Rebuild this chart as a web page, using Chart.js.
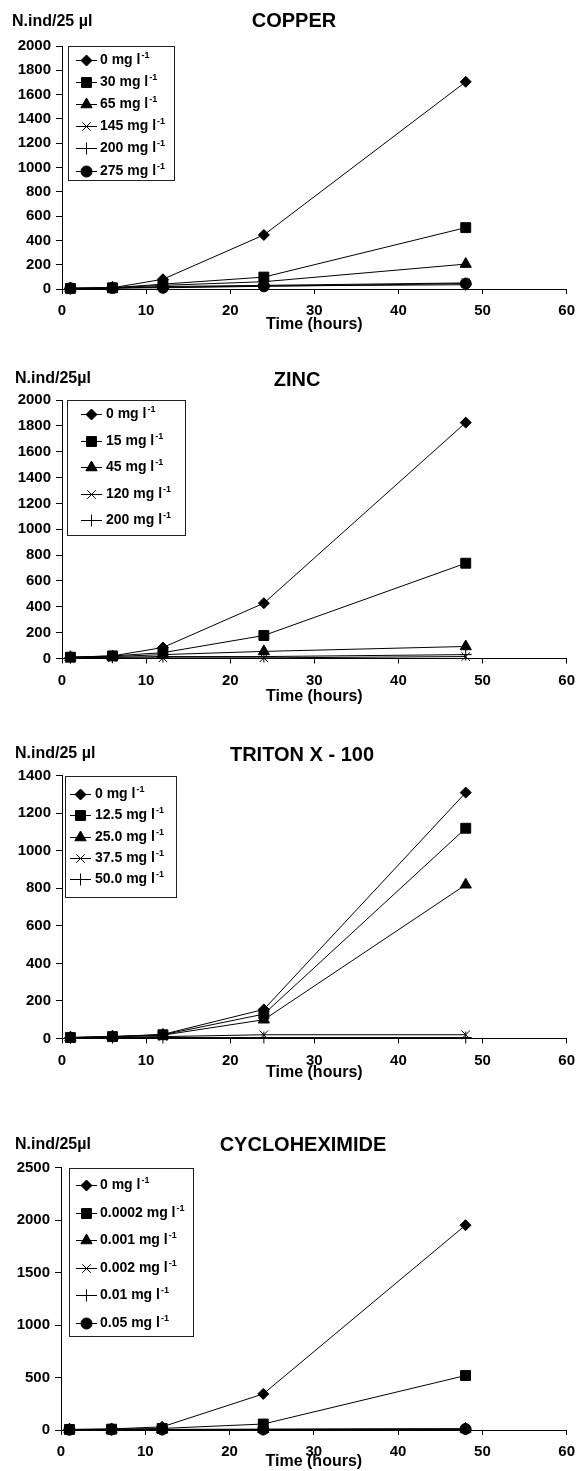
<!DOCTYPE html>
<html>
<head>
<meta charset="utf-8">
<title>Growth curves</title>
<script src="https://cdn.jsdelivr.net/npm/chart.js@4.4.1/dist/chart.umd.min.js"></script>
<style>
  body { margin: 0; background: #fff; }
  #wrap { position: relative; width: 583px; height: 1471px; }
  canvas { position: absolute; left: 0; }
</style>
</head>
<body>
<div id="wrap">
  <canvas id="copperChart"></canvas>
  <canvas id="zincChart"></canvas>
  <canvas id="tritonChart"></canvas>
  <canvas id="cycloChart"></canvas>
</div>
<script>
// sampling times (hours), shared by every panel
const hours = [1, 6, 12, 24, 48];

// ---- COPPER ----
const copperConc = ["0", "30", "65", "145", "200", "275"];
const copper0 = [5, 10, 80, 445, 1705];
const copper30 = [5, 10, 40, 98, 505];
const copper65 = [5, 10, 30, 60, 205];
const copper145 = [5, 8, 20, 30, 50];
const copper200 = [5, 8, 15, 25, 35];
const copper275 = [5, 8, 10, 22, 45];
const copperTicks = { max: 2000, step: 200 };

// ---- ZINC ----
const zincConc = ["0", "15", "45", "120", "200"];
const zinc0 = [10, 20, 85, 428, 1825];
const zinc15 = [10, 20, 45, 178, 737];
const zinc45 = [10, 15, 30, 55, 93];
const zinc120 = [5, 5, 5, 5, 15];
const zinc200 = [5, 10, 15, 15, 30];
const zincTicks = { max: 2000, step: 200 };

// ---- TRITON X - 100 ----
const tritonConc = ["0", "12.5", "25.0", "37.5", "50.0"];
const triton0 = [5, 10, 22, 155, 1310];
const triton12 = [5, 10, 20, 130, 1120];
const triton25 = [5, 10, 18, 100, 819];
const triton37 = [5, 8, 10, 20, 20];
const triton50 = [3, 5, 5, 5, 5];
const tritonTicks = { max: 1400, step: 200 };

// ---- CYCLOHEXIMIDE ----
const cycloConc = ["0", "0.0002", "0.001", "0.002", "0.01", "0.05"];
const cyclo0 = [5, 10, 30, 344, 1952];
const cyclo00002 = [5, 8, 15, 57, 519];
const cyclo0001 = [3, 5, 5, 8, 10];
const cyclo0002 = [3, 5, 5, 5, 8];
const cyclo001 = [3, 5, 5, 5, 8];
const cyclo005 = [3, 5, 5, 5, 10];
const cycloTicks = { max: 2500, step: 500 };

/* ===============================
   STYLE
=============================== */
const FONT = "'Liberation Sans', Arial, Helvetica, sans-serif";
const markers = [
  { style: "rectRot", radius: 5.5 },
  { style: "rect", radius: 7 },
  { style: "triangle", radius: 6.5 },
  { style: "crossRot", radius: 6 },
  { style: "cross", radius: 6 },
  { style: "circle", radius: 5.5 }
];

// page layout of each panel (pixels on the page)
const panels = [
  {
    id: "copperChart", title: "COPPER", yLabel: "N.ind/25 \u00b5l",
    conc: copperConc, series: [copper0, copper30, copper65, copper145, copper200, copper275], ticks: copperTicks,
    top: 0, height: 345, plotTop: 46, plotBottom: 289, plotLeft: 62, plotRight: 570,
    titleX: 294, titleY: 21, yLabelX: 12, yLabelY: 22, xTitleY: 325,
    legend: { left: 68, top: 46, right: 174, bottom: 180, firstY: 59.5, spacing: 22.2, lineX1: 76, lineX2: 97, textX: 100 }
  },
  {
    id: "zincChart", title: "ZINC", yLabel: "N.ind/25\u00b5l",
    conc: zincConc, series: [zinc0, zinc15, zinc45, zinc120, zinc200], ticks: zincTicks,
    top: 360, height: 360, plotTop: 400, plotBottom: 658.5, plotLeft: 62, plotRight: 571.5,
    titleX: 297, titleY: 380, yLabelX: 15, yLabelY: 379, xTitleY: 697,
    legend: { left: 67, top: 399.5, right: 185, bottom: 534, firstY: 414.3, spacing: 26.4, lineX1: 81, lineX2: 102, textX: 106 }
  },
  {
    id: "tritonChart", title: "TRITON X - 100", yLabel: "N.ind/25 \u00b5l",
    conc: tritonConc, series: [triton0, triton12, triton25, triton37, triton50], ticks: tritonTicks,
    top: 730, height: 360, plotTop: 775.7, plotBottom: 1038.5, plotLeft: 62, plotRight: 572.5,
    titleX: 302, titleY: 755, yLabelX: 15, yLabelY: 754, xTitleY: 1073,
    legend: { left: 64.5, top: 775.7, right: 175.7, bottom: 896.7, firstY: 794, spacing: 21.3, lineX1: 70, lineX2: 91, textX: 95 }
  },
  {
    id: "cycloChart", title: "CYCLOHEXIMIDE", yLabel: "N.ind/25\u00b5l",
    conc: cycloConc, series: [cyclo0, cyclo00002, cyclo0001, cyclo0002, cyclo001, cyclo005], ticks: cycloTicks,
    top: 1110, height: 361, plotTop: 1167.7, plotBottom: 1430, plotLeft: 61, plotRight: 574,
    titleX: 303, titleY: 1145.5, yLabelX: 15, yLabelY: 1145, xTitleY: 1461.7,
    legend: { left: 68.5, top: 1168.3, right: 192.7, bottom: 1336.7, firstY: 1185, spacing: 27.5, lineX1: 76, lineX2: 97, textX: 100 }
  }
];

/* ===============================
   PLUGINS
=============================== */

// panel title and the y-axis label above the axis
const panelText = {
  id: "panelText",
  afterDraw(chart, args, opts) {
    const ctx = chart.ctx;
    ctx.save();
    ctx.fillStyle = "#000";
    ctx.textBaseline = "middle";
    ctx.font = "bold 20px " + FONT;
    ctx.textAlign = "center";
    ctx.fillText(opts.title, opts.titleX, opts.titleY);
    ctx.font = "bold 16px " + FONT;
    ctx.textAlign = "left";
    ctx.fillText(opts.yLabel, opts.yLabelX, opts.yLabelY);
    ctx.restore();
  }
};

// boxed legend sitting inside the plot area
const boxLegend = {
  id: "boxLegend",
  afterDraw(chart, args, opts) {
    const ctx = chart.ctx;
    ctx.save();
    ctx.fillStyle = "#fff";
    ctx.fillRect(opts.left, opts.top, opts.right - opts.left, opts.bottom - opts.top);
    ctx.strokeStyle = "#222";
    ctx.lineWidth = 1;
    ctx.strokeRect(Math.round(opts.left) + 0.5, Math.round(opts.top) + 0.5,
      Math.round(opts.right - opts.left), Math.round(opts.bottom - opts.top));

    chart.data.datasets.forEach((ds, i) => {
      const y = Math.round(opts.firstY + i * opts.spacing) + 0.5;
      ctx.strokeStyle = "#000";
      ctx.lineWidth = 1;
      ctx.beginPath();
      ctx.moveTo(opts.lineX1, y);
      ctx.lineTo(opts.lineX2, y);
      ctx.stroke();

      ctx.fillStyle = "#000";
      Chart.helpers.drawPoint(ctx, {
        pointStyle: ds.pointStyle, radius: ds.pointRadius, rotation: 0, borderWidth: 1
      }, (opts.lineX1 + opts.lineX2) / 2, y);

      ctx.textBaseline = "middle";
      ctx.textAlign = "left";
      ctx.font = "bold 14px " + FONT;
      const base = ds.conc + " mg l";
      ctx.fillText(base, opts.textX, y);
      const w = ctx.measureText(base).width;
      ctx.font = "bold 9px " + FONT;
      ctx.fillText("-1", opts.textX + w + 1, y - 5);
    });
    ctx.restore();
  }
};

/* ===============================
   CHARTS
=============================== */
const tickFont = { family: FONT, size: 15, weight: "bold" };

panels.forEach(p => {
  const canvas = document.getElementById(p.id);
  canvas.width = 583;
  canvas.height = p.height;
  canvas.style.top = p.top + "px";

  const xAxisHeight = p.top + p.height - p.plotBottom;
  const xTitlePad = Math.max(0, p.top + p.height - p.xTitleY - 9.6);

  const datasets = p.series.map((vals, i) => ({
    label: p.conc[i] + " mg l-1",
    conc: p.conc[i],
    data: hours.map((h, k) => ({ x: h, y: vals[k] })),
    borderColor: "#000",
    borderWidth: 1,
    backgroundColor: "#000",
    pointStyle: markers[i].style,
    pointRadius: markers[i].radius,
    pointBackgroundColor: "#000",
    pointBorderColor: "#000",
    pointBorderWidth: 1,
    tension: 0,
    clip: false
  }));

  new Chart(canvas.getContext("2d"), {
    type: "line",
    data: { datasets: datasets },
    plugins: [panelText, boxLegend],
    options: {
      responsive: false,
      animation: false,
      devicePixelRatio: 1,
      layout: {
        padding: { top: p.plotTop - p.top, right: 583 - p.plotRight, left: 0, bottom: 0 }
      },
      plugins: {
        legend: { display: false },
        tooltip: { enabled: false },
        panelText: {
          title: p.title, titleX: p.titleX, titleY: p.titleY - p.top,
          yLabel: p.yLabel, yLabelX: p.yLabelX, yLabelY: p.yLabelY - p.top
        },
        boxLegend: {
          left: p.legend.left, right: p.legend.right,
          top: p.legend.top - p.top, bottom: p.legend.bottom - p.top,
          firstY: p.legend.firstY - p.top, spacing: p.legend.spacing,
          lineX1: p.legend.lineX1, lineX2: p.legend.lineX2, textX: p.legend.textX
        }
      },
      scales: {
        x: {
          type: "linear",
          min: 0,
          max: 60,
          ticks: { stepSize: 10, font: tickFont, color: "#000", padding: 8, maxRotation: 0, callback: v => String(v) },
          grid: { drawOnChartArea: false, drawTicks: true, tickLength: 5, color: "#000" },
          border: { display: true, color: "#000", width: 1 },
          title: {
            display: true,
            text: "Time (hours)",
            color: "#000",
            font: { family: FONT, size: 16, weight: "bold" },
            padding: { top: 0, bottom: xTitlePad }
          },
          afterFit: scale => { scale.height = xAxisHeight; }
        },
        y: {
          type: "linear",
          min: 0,
          max: p.ticks.max,
          ticks: { stepSize: p.ticks.step, font: tickFont, color: "#000", padding: 5, callback: v => String(v) },
          grid: { drawOnChartArea: false, drawTicks: true, tickLength: 6, color: "#000" },
          border: { display: true, color: "#000", width: 1 },
          afterFit: scale => { scale.width = p.plotLeft; }
        }
      }
    }
  });
});
</script>
</body>
</html>
